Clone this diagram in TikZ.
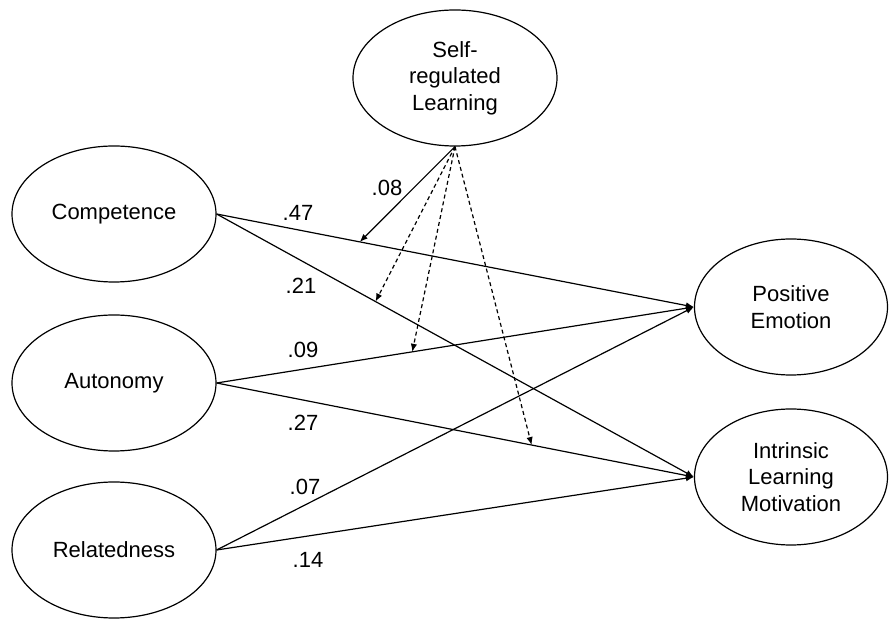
\documentclass[tikz,border=0pt]{standalone}
\usepackage{fontspec}
\setmainfont{Liberation Sans}
\usetikzlibrary{shapes.geometric,arrows.meta}
\begin{document}
\begin{tikzpicture}[x=0.5pt,y=-0.5pt,
  latent/.style={ellipse, draw, line width=0.6pt, minimum width=102pt, minimum height=68pt, inner sep=0pt, align=center, font=\fontsize{11pt}{13.3pt}\selectfont},
  coef/.style={inner sep=0pt, font=\fontsize{11pt}{13.3pt}\selectfont},
  effect/.style={line width=0.6pt, -{Latex[length=4pt,width=3.2pt]}},
  moder/.style={effect, dash pattern=on 2pt off 1.5pt}]
\useasboundingbox (0,0) rectangle (889,619);
\node[latent] (srl) at (455,78){Self-\\regulated\\Learning};
\node[latent] (comp) at (114,214){Competence};
\node[latent] (auto) at (114,383){Autonomy};
\node[latent] (rel) at (114,550){Relatedness};
\node[latent, minimum width=96.5pt] (pe) at (791,307){Positive\\Emotion};
\node[latent, minimum width=96.5pt] (ilm) at (791,477){Intrinsic\\Learning\\Motivation};
\draw[effect](comp.east) -- (pe.west) coordinate[pos=0.30] (m1);
\draw[effect](comp.east) -- (ilm.west) coordinate[pos=0.333] (m2);
\draw[effect](auto.east) -- (pe.west) coordinate[pos=0.41] (m3);
\draw[effect](auto.east) -- (ilm.west) coordinate[pos=0.66] (m4);
\draw[effect](rel.east) -- (pe.west);
\draw[effect](rel.east) -- (ilm.west);
\node[coef] (c47) at (298,213){.47};
\node[coef] (c21) at (301,286){.21};
\node[coef] (c09) at (303,350){.09};
\node[coef] (c27) at (303,423){.27};
\node[coef] (c07) at (305,487){.07};
\node[coef] (c14) at (308,560){.14};
\draw[effect](srl.south) -- (m1);
\draw[moder](srl.south) -- (m2);
\draw[moder](srl.south) -- (m3);
\draw[moder](srl.south) -- (m4);
\node[coef] (c08) at (387,188){.08};
\end{tikzpicture}
\end{document}
